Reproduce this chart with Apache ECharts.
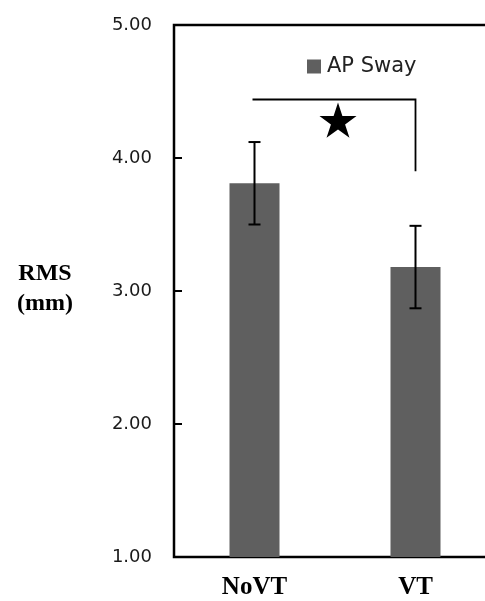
<!DOCTYPE html>
<html>
<head>
<meta charset="utf-8">
<script src="https://cdn.jsdelivr.net/npm/echarts@6/dist/echarts.min.js"></script>
<style>
  html, body { margin: 0; padding: 0; background: #fff; overflow: hidden; }
  #chart { width: 510px; height: 601px; }
</style>
</head>
<body>
<div id="chart"></div>
<script>
// values
var categories = ['NoVT', 'VT'];
var means = [3.81, 3.18];
var errors = [0.31, 0.31];
var yTicks = [1, 2, 3, 4, 5];
// significance bracket: level of the bar, end of the drop, star height
var bracket = [4.44, 3.90, 4.27];

var errData = means.map(function (m, i) { return [i, m - errors[i], m + errors[i]]; });

// the plot box runs past the right edge of the window, as in the original figure
var myChart = echarts.init(document.getElementById('chart'));
myChart.setOption({
    animation: false,
    grid: {
        left: 174, top: 25, width: 322, height: 532,
        show: true, borderColor: '#000', borderWidth: 2.5, backgroundColor: 'transparent'
    },
    legend: {
        data: ['AP Sway'],
        left: 302, top: 51,
        icon: 'rect', itemWidth: 14, itemHeight: 14, itemGap: 10,
        textStyle: { fontFamily: 'DejaVu Sans', fontSize: 21, color: '#222', padding: [0, 0, 0, 1] }
    },
    graphic: [{
        type: 'text', x: 45, y: 289,
        style: {
            text: 'RMS\n(mm)', textAlign: 'center', textVerticalAlign: 'middle',
            font: 'bold 24px "Liberation Serif"', lineHeight: 30, fill: '#000'
        }
    }],
    xAxis: {
        type: 'category',
        data: categories,
        axisLine: { show: false },
        axisTick: { show: false },
        axisLabel: {
            margin: 18, color: '#000',
            fontFamily: 'Liberation Serif', fontWeight: 'bold', fontSize: 25
        }
    },
    yAxis: {
        type: 'value',
        min: yTicks[0], max: yTicks[yTicks.length - 1], interval: 1,
        axisLine: { show: false },
        axisTick: { show: true, inside: true, length: 8, lineStyle: { color: '#000', width: 2 } },
        splitLine: { show: false },
        axisLabel: {
            margin: 22, color: '#1a1a1a', fontFamily: 'DejaVu Sans', fontSize: 18,
            formatter: function (v) { return v.toFixed(2); }
        }
    },
    series: [
        {
            name: 'AP Sway',
            type: 'bar',
            data: means,
            barWidth: 50,
            itemStyle: { color: '#5f5f5f' }
        },
        {
            type: 'custom',
            data: errData,
            z: 5,
            renderItem: function (params, api) {
                var lo = api.coord([api.value(0), api.value(1)]);
                var hi = api.coord([api.value(0), api.value(2)]);
                var cap = 6;
                var st = { stroke: '#000', lineWidth: 2 };
                return {
                    type: 'group',
                    children: [
                        { type: 'line', shape: { x1: hi[0], y1: hi[1], x2: lo[0], y2: lo[1] }, style: st },
                        { type: 'line', shape: { x1: hi[0] - cap, y1: hi[1], x2: hi[0] + cap, y2: hi[1] }, style: st },
                        { type: 'line', shape: { x1: lo[0] - cap, y1: lo[1], x2: lo[0] + cap, y2: lo[1] }, style: st }
                    ]
                };
            }
        },
        {
            type: 'custom',
            data: [[0, 1, bracket[0], bracket[1], bracket[2]]],
            z: 5,
            renderItem: function (params, api) {
                var a = api.coord([api.value(0), api.value(2)]);
                var b = api.coord([api.value(1), api.value(2)]);
                var c = api.coord([api.value(1), api.value(3)]);
                var s = api.coord([api.value(0), api.value(4)]);
                var cx = (a[0] + b[0]) / 2 + 3, cy = s[1];
                var R = 19.5, r = R * 0.382, pts = [];
                for (var k = 0; k < 10; k++) {
                    var ang = -Math.PI / 2 + k * Math.PI / 5;
                    var rr = k % 2 === 0 ? R : r;
                    pts.push([cx + rr * Math.cos(ang), cy + rr * Math.sin(ang)]);
                }
                return {
                    type: 'group',
                    children: [
                        { type: 'polyline', shape: { points: [[a[0] - 2, a[1]], b, c] },
                          style: { stroke: '#000', lineWidth: 1.8, fill: null } },
                        { type: 'polygon', shape: { points: pts }, style: { fill: '#000' } }
                    ]
                };
            }
        }
    ]
});
</script>
</body>
</html>
